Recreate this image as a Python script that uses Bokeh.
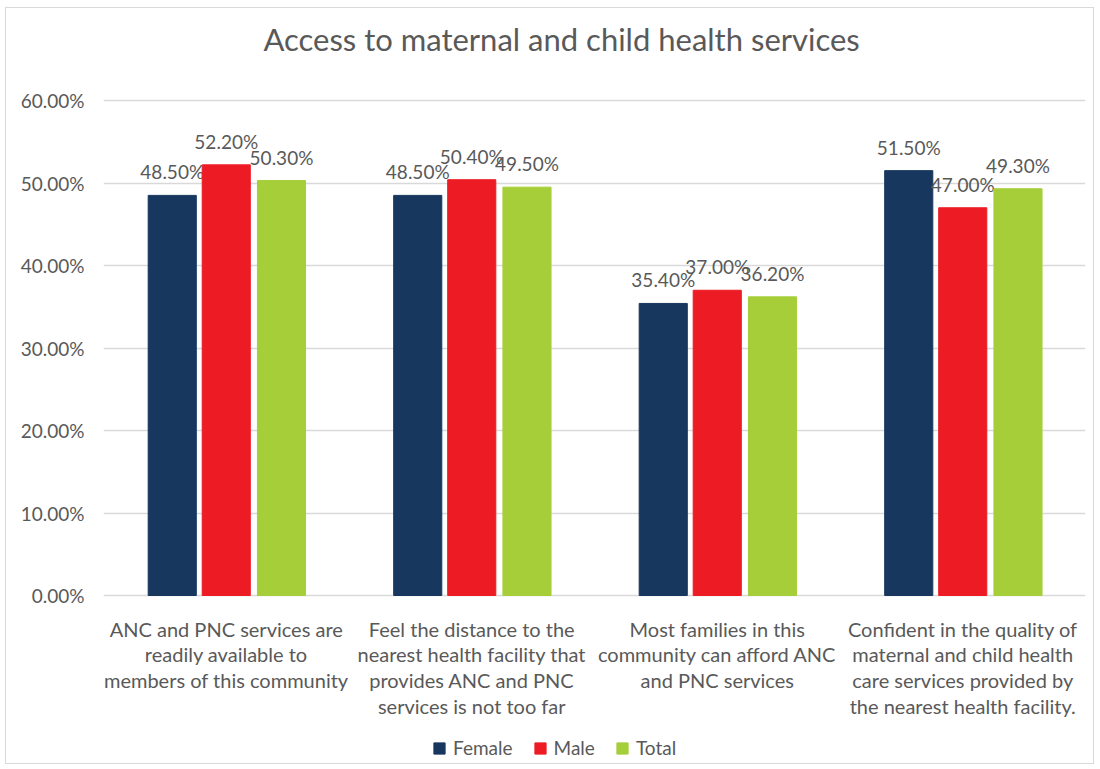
from bokeh.plotting import figure
from bokeh.models import (Range1d, FixedTicker, NumeralTickFormatter, ColumnDataSource,
                          Legend, LegendItem)
from bokeh.core.properties import value
from bokeh.embed import file_html
from bokeh.resources import INLINE

title = "Access to maternal and child health services"
categories = [
    "ANC and PNC services are\nreadily available to\nmembers of this community",
    "Feel the distance to the\nnearest health facility that\nprovides ANC and PNC\nservices is not too far",
    "Most families in this\ncommunity can afford ANC\nand PNC services",
    "Confident in the quality of\nmaternal and child health\ncare services provided by\nthe nearest health facility.",
]
series = ["Female", "Male", "Total"]
female = [0.485, 0.485, 0.354, 0.515]
male = [0.522, 0.504, 0.370, 0.470]
total = [0.503, 0.495, 0.362, 0.493]
y_ticks = [0.0, 0.1, 0.2, 0.3, 0.4, 0.5, 0.6]

colors = ["#17375E", "#ED1C24", "#A6CE39"]
offsets = [-0.22, 0.0, 0.225]
FONT = "Lato"
GRAY = "#595959"

# Frame covers the whole chart area; the value axis spans 0..60% and the
# extra room above/below holds the title, category labels and legend.
p = figure(width=1089, height=757, output_backend="svg", toolbar_location=None,
           x_range=Range1d(0, 4), y_range=Range1d(-0.20606, 0.71152),
           min_border_left=97, min_border_right=10, min_border_top=0, min_border_bottom=0)
p.styles = {"margin": "7px 0px 0px 5px", "border": "1px solid #D9D9D9"}
p.outline_line_color = None
p.xaxis.visible = False
p.xgrid.grid_line_color = None
p.ygrid.grid_line_color = "#D9D9D9"
p.ygrid.grid_line_width = 1.5
p.ygrid.ticker = FixedTicker(ticks=y_ticks)

p.yaxis.ticker = FixedTicker(ticks=y_ticks)
p.yaxis.formatter = NumeralTickFormatter(format="0.00%")
p.yaxis.axis_line_color = None
p.yaxis.major_tick_line_color = None
p.yaxis.minor_tick_line_color = None
p.yaxis.major_label_text_font = FONT
p.yaxis.major_label_text_font_size = "19px"
p.yaxis.major_label_text_color = GRAY
p.yaxis.major_label_standoff = 13

# title
p.text(x=[1.866], y=[0.6], text=[title], text_align="center", text_baseline="middle",
       y_offset=-62, text_font=value(FONT), text_font_size="31px", text_color=GRAY)

# category labels under the 0% line
tick_pos = [i + 0.5 for i in range(len(categories))]
p.text(x=tick_pos, y=[0] * len(tick_pos), text=categories, text_align="center",
       text_baseline="top", y_offset=21, text_font=value(FONT), text_font_size="20px",
       text_color=GRAY, text_line_height=1.08)

items = []
for name, vals, col, off in zip(series, [female, male, total], colors, offsets):
    src = ColumnDataSource(dict(
        x=[i + 0.5 + off for i in range(len(vals))],
        top=vals,
        lab=["%.2f%%" % (v * 100) for v in vals],
    ))
    r = p.vbar(x="x", top="top", width=0.196, bottom=0, source=src, color=col)
    p.text(x="x", y="top", text="lab", source=src, text_align="center",
           text_baseline="bottom", y_offset=-12, text_font=value(FONT),
           text_font_size="19px", text_color=GRAY)
    items.append(LegendItem(label=name, renderers=[r]))

legend = Legend(items=items, orientation="horizontal", location=(329, 6),
                glyph_width=14, glyph_height=14, label_standoff=7, spacing=20,
                padding=0, margin=0, border_line_color=None, background_fill_alpha=0,
                label_text_font=FONT, label_text_font_size="19px", label_text_color=GRAY)
p.add_layout(legend, "center")

open("out.html", "w").write(file_html(p, INLINE))
